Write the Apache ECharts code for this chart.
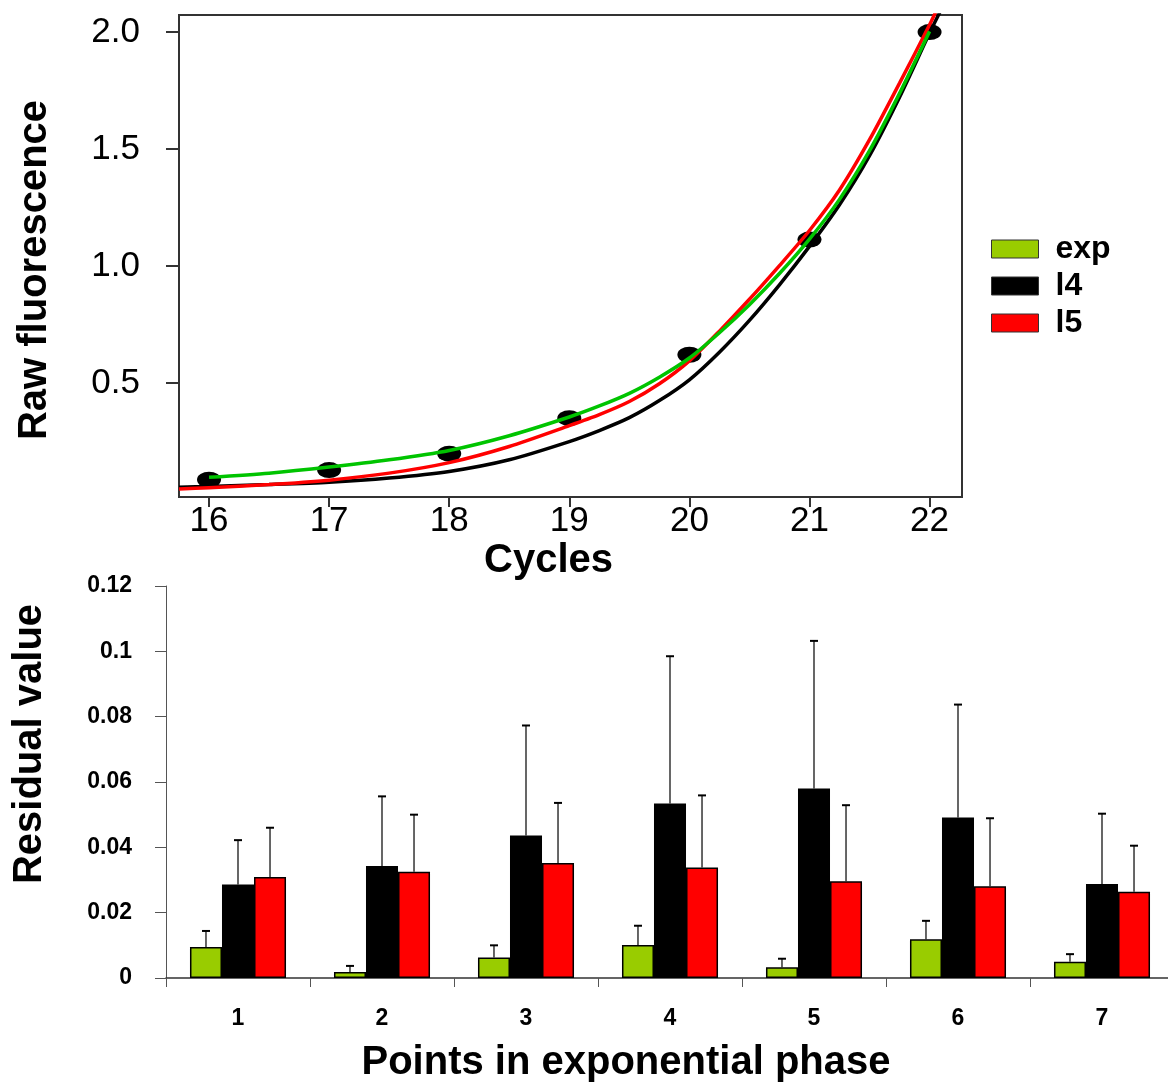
<!DOCTYPE html>
<html>
<head>
<meta charset="utf-8">
<script src="https://cdn.jsdelivr.net/npm/echarts@6/dist/echarts.min.js"></script>
<style>
html,body{margin:0;padding:0;background:#fff;}
#chart{width:1168px;height:1082px;}
</style>
</head>
<body>
<div id="chart"></div>
<script>
// ---- Top panel data ----
const cycles = [16, 17, 18, 19, 20, 21, 22];
const rawFluorescence = [0.087, 0.128, 0.198, 0.350, 0.621, 1.113, 2.0];
const expCurve = [[16,0.097],[16.5,0.115],[17,0.141],[17.5,0.172],[18,0.212],[18.5,0.275],[19,0.355],[19.25,0.402],[19.5,0.456],[19.75,0.525],[20,0.607],[20.25,0.715],[20.5,0.835],[20.75,0.968],[21,1.115],[21.25,1.285],[21.5,1.493],[21.75,1.738],[22,2.003]];
const l4Curve = [[15.75,0.055],[16,0.058],[16.5,0.066],[17,0.076],[17.5,0.094],[18,0.122],[18.5,0.172],[19,0.250],[19.25,0.297],[19.5,0.352],[19.75,0.425],[20,0.514],[20.25,0.632],[20.5,0.768],[20.75,0.920],[21,1.084],[21.25,1.262],[21.5,1.472],[21.75,1.722],[22,1.996],[22.1,2.10]];
const l5Curve = [[15.75,0.047],[16,0.053],[16.5,0.066],[17,0.085],[17.5,0.115],[18,0.160],[18.5,0.229],[19,0.318],[19.25,0.365],[19.5,0.421],[19.75,0.497],[20,0.595],[20.25,0.722],[20.5,0.858],[20.75,1.002],[21,1.152],[21.25,1.325],[21.5,1.540],[21.75,1.782],[22,2.031],[22.1,2.14]];
const topYTicks = [0.5, 1.0, 1.5, 2.0];

// ---- Bottom panel data ----
const points = ['1', '2', '3', '4', '5', '6', '7'];
const expResid = [0.0095, 0.0018, 0.0063, 0.0101, 0.0033, 0.0119, 0.0050];
const l4Resid  = [0.0286, 0.0343, 0.0436, 0.0534, 0.0580, 0.0491, 0.0288];
const l5Resid  = [0.0309, 0.0325, 0.0352, 0.0338, 0.0296, 0.0281, 0.0264];
const expErr = [0.0049, 0.0019, 0.0037, 0.0059, 0.0026, 0.0056, 0.0023];
const l4Err  = [0.0136, 0.0213, 0.0337, 0.0451, 0.0452, 0.0346, 0.0215];
const l5Err  = [0.0151, 0.0175, 0.0184, 0.0221, 0.0233, 0.0208, 0.0141];

const FONT = "'Liberation Sans', Arial, sans-serif";
const GREEN_BAR = '#99cc00', GREEN_LINE = '#00c400', RED = '#ff0000', BLACK = '#000000';
const CAT_GAP = 0.333;

function errSeries(name, vals, errs, k) {
  return {
    type: 'custom', name: name, xAxisIndex: 1, yAxisIndex: 1, z: 5,
    data: vals.map((v, i) => [i, v, errs[i]]),
    encode: { x: 0, y: 1 },
    renderItem: function (params, api) {
      const i = api.value(0), v = api.value(1), e = api.value(2);
      const band = api.size([1, 0])[0];
      const bw = band * (1 - CAT_GAP) / 3;
      const base = api.coord([i, v]);
      const top = api.coord([i, v + e]);
      const x = base[0] + (k - 1) * bw;
      return {
        type: 'group',
        children: [
          { type: 'line', shape: { x1: x, y1: base[1], x2: x, y2: top[1] }, style: { stroke: '#000', lineWidth: 1.2 } },
          { type: 'line', shape: { x1: x - 4, y1: top[1], x2: x + 4, y2: top[1] }, style: { stroke: '#000', lineWidth: 2 } }
        ]
      };
    }
  };
}

const chart = echarts.init(document.getElementById('chart'));
chart.setOption({
  animation: false,
  backgroundColor: '#fff',
  textStyle: { fontFamily: FONT },
  legend: {
    orient: 'vertical', left: 986, top: 228,
    data: ['exp', 'l4', 'l5'],
    icon: 'rect', itemWidth: 47, itemHeight: 18, itemGap: 5,
    itemStyle: { borderColor: '#333', borderWidth: 1 },
    textStyle: { fontFamily: FONT, fontSize: 32, fontWeight: 'bold', color: '#000', padding: [0, 0, 0, 12] },
    selectedMode: false
  },
  grid: [
    { left: 179, top: 15, width: 783, height: 482, show: true, borderColor: '#333', borderWidth: 2, backgroundColor: 'transparent', outerBoundsMode: 'none', containLabel: false },
    { left: 166, width: 1008, top: 586, height: 392, outerBoundsMode: 'none', containLabel: false }
  ],
  xAxis: [
    {
      type: 'value', gridIndex: 0, min: 15.75, max: 22.27,
      name: 'Cycles', nameLocation: 'middle', nameGap: 44,
      nameTextStyle: { fontFamily: FONT, fontSize: 40, fontWeight: 'bold', color: '#000', padding: [0, 44, 0, 0] },
      axisLine: { show: true, onZero: false, lineStyle: { color: '#333', width: 2 } },
      axisTick: { show: true, length: 10, customValues: cycles, lineStyle: { color: '#333', width: 2 } },
      axisLabel: { customValues: cycles, margin: 7, fontSize: 35, color: '#000', fontFamily: FONT, formatter: v => String(v) },
      splitLine: { show: false }
    },
    {
      type: 'category', gridIndex: 1, data: points, boundaryGap: true,
      name: 'Points in exponential phase', nameLocation: 'middle', nameGap: 65,
      nameTextStyle: { fontFamily: FONT, fontSize: 40, fontWeight: 'bold', color: '#000', padding: [0, 88, 0, 0] },
      axisLine: { show: true, lineStyle: { color: '#333', width: 1.5 } },
      axisTick: { show: true, length: 9, alignWithLabel: false, lineStyle: { color: '#555', width: 1 } },
      axisLabel: { margin: 29, fontSize: 23, fontWeight: 'bold', color: '#000', fontFamily: FONT },
      splitLine: { show: false }
    }
  ],
  yAxis: [
    {
      type: 'value', gridIndex: 0, min: 0.013, max: 2.073,
      name: 'Raw fluorescence', nameLocation: 'middle', nameGap: 124, nameRotate: 90,
      nameTextStyle: { fontFamily: FONT, fontSize: 40, fontWeight: 'bold', color: '#000', padding: [0, 28, 0, 0] },
      axisLine: { show: true, lineStyle: { color: '#333', width: 2 } },
      axisTick: { show: true, length: 13, customValues: topYTicks, lineStyle: { color: '#333', width: 2 } },
      axisLabel: { customValues: topYTicks, margin: 39, fontSize: 35, color: '#000', fontFamily: FONT, formatter: v => v.toFixed(1) },
      splitLine: { show: false }
    },
    {
      type: 'value', gridIndex: 1, min: 0, max: 0.12, interval: 0.02,
      name: 'Residual value', nameLocation: 'middle', nameGap: 116, nameRotate: 90,
      nameTextStyle: { fontFamily: FONT, fontSize: 40, fontWeight: 'bold', color: '#000', padding: [0, 0, 0, 76] },
      axisLine: { show: true, lineStyle: { color: '#555', width: 1 } },
      axisTick: { show: true, length: 11, lineStyle: { color: '#555', width: 1 } },
      axisLabel: { margin: 34, fontSize: 23, fontWeight: 'bold', color: '#000', fontFamily: FONT },
      splitLine: { show: false }
    }
  ],
  series: [
    {
      type: 'scatter', name: 'data', xAxisIndex: 0, yAxisIndex: 0, z: 1,
      data: cycles.map((c, i) => [c, rawFluorescence[i]]),
      symbol: 'circle', symbolSize: [24, 16], itemStyle: { color: '#000', opacity: 1 }
    },
    { type: 'line', name: 'l4 fit', xAxisIndex: 0, yAxisIndex: 0, z: 2, data: l4Curve, smooth: 0.25, showSymbol: false, clip: true, lineStyle: { color: BLACK, width: 3.5 } },
    { type: 'line', name: 'l5 fit', xAxisIndex: 0, yAxisIndex: 0, z: 3, data: l5Curve, smooth: 0.25, showSymbol: false, clip: true, lineStyle: { color: RED, width: 3.5 } },
    { type: 'line', name: 'exp fit', xAxisIndex: 0, yAxisIndex: 0, z: 4, data: expCurve, smooth: 0.25, showSymbol: false, clip: true, lineStyle: { color: GREEN_LINE, width: 3.5 } },
    {
      type: 'bar', name: 'exp', xAxisIndex: 1, yAxisIndex: 1, data: expResid,
      barGap: '0%', barCategoryGap: '33.3%',
      itemStyle: { color: GREEN_BAR, borderColor: '#000', borderWidth: 1.5 }
    },
    {
      type: 'bar', name: 'l4', xAxisIndex: 1, yAxisIndex: 1, data: l4Resid,
      barGap: '0%', barCategoryGap: '33.3%',
      itemStyle: { color: BLACK, borderColor: '#000', borderWidth: 1.5 }
    },
    {
      type: 'bar', name: 'l5', xAxisIndex: 1, yAxisIndex: 1, data: l5Resid,
      barGap: '0%', barCategoryGap: '33.3%',
      itemStyle: { color: RED, borderColor: '#000', borderWidth: 1.5 }
    },
    errSeries('exp err', expResid, expErr, 0),
    errSeries('l4 err', l4Resid, l4Err, 1),
    errSeries('l5 err', l5Resid, l5Err, 2)
  ]
});
</script>
</body>
</html>
